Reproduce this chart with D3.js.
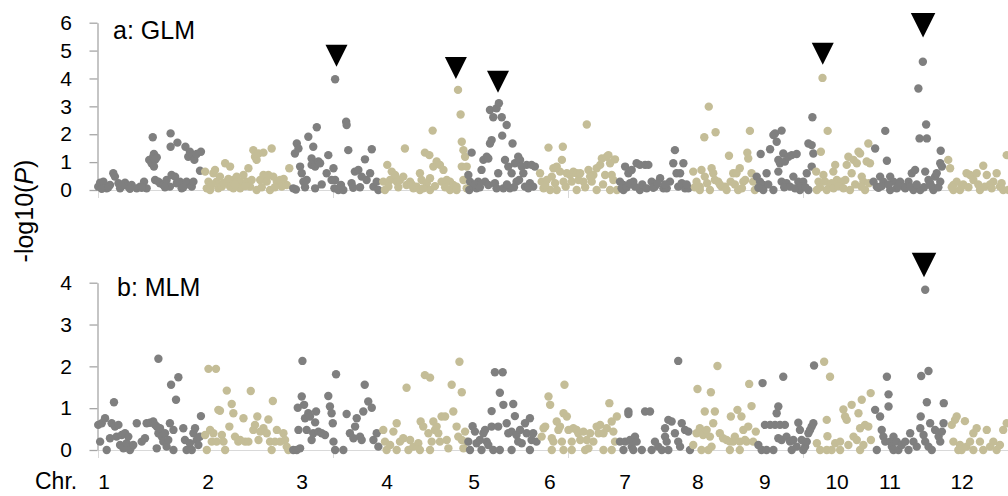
<!DOCTYPE html>
<html>
<head>
<meta charset="utf-8">
<script src="https://cdn.jsdelivr.net/npm/d3@7"></script>
<style>
  body { margin: 0; background: #fff; }
  text { font-family: "Liberation Sans", Arial, sans-serif; }
</style>
</head>
<body>
<div id="vis"></div>
<script>

// chromosome layout (Mb-like units along the genome)
const CHROMS = ["1", "2", "3", "4", "5", "6", "7", "8", "9", "10", "11", "12"];
const CHR_START = [0, 44, 82, 120, 157, 187, 221, 252, 280, 305, 329, 360];
const CHR_LABEL_POS = [2.6, 46.8, 86.8, 123, 160, 192.3, 224.3, 255.3, 283.8, 314.5, 337, 367.7];
const X_TICKS = [0, 100, 200, 300];
const GLM_TICKS = [0, 1, 2, 3, 4, 5, 6];
const MLM_TICKS = [0, 1, 2, 3, 4];

// GLM: [position within chromosome, -log10(P)]
const glm1 = [[0.1,0.12],[0.9,0.26],[2.3,0.30],[3.7,0.06],[5.1,0.18],[6.5,0.60],[7.2,0.48],[8.7,0.24],[9.4,0.06],[11.5,0.26],[12.9,0.12],[14.3,0.18],[16.5,0.06],[17.9,0.12],[19.6,0.30],[20.7,0.06],[21.8,1.08],[22.8,0.96],[23.3,1.89],[23.5,1.19],[23.8,1.29],[24.3,1.08],[25.0,1.17],[23.8,0.84],[24.3,0.36],[25.7,0.30],[26.4,0.24],[27.8,0.18],[29.2,0.36],[30.6,0.12],[31.3,0.54],[32.8,0.48],[33.5,0.24],[34.9,0.30],[35.6,0.06],[37.0,0.18],[37.7,0.30],[39.9,0.12],[40.6,0.30],[30.9,2.03],[30.9,1.55],[33.8,1.70],[37.2,1.55],[38.4,1.19],[39.1,1.37],[40.3,1.25],[41.0,1.08],[42.0,1.29],[43.8,1.37],[43.4,0.69],[1.6,0.04],[4.4,0.10],[10.2,0.14],[13.6,0.04],[18.6,0.08],[28.5,0.10],[36.3,0.10]];
const glm2 = [[1.6,0.66],[2.3,0.06],[3.0,0.30],[3.7,0.0],[5.1,0.60],[5.8,0.72],[6.5,0.30],[7.2,0.06],[7.9,0.48],[8.7,0.12],[10.1,0.96],[10.8,0.30],[12.2,0.84],[12.2,0.12],[13.6,0.36],[13.6,0.06],[15.0,0.48],[16.5,0.30],[16.5,0.06],[17.9,0.54],[19.3,0.30],[20.0,0.78],[20.7,0.12],[22.1,1.43],[22.8,1.19],[23.5,1.08],[23.5,0.0],[24.3,1.31],[25.0,0.36],[26.4,1.34],[26.4,0.54],[27.8,0.30],[28.5,0.54],[29.2,0.0],[29.9,1.49],[30.6,0.48],[32.1,0.30],[33.5,0.36],[34.2,0.12],[36.3,0.18],[37.4,0.78],[4.4,0.20],[9.4,0.24],[11.5,0.40],[14.3,0.20],[18.6,0.14],[21.4,0.36],[25.7,0.10],[31.3,0.10],[35.0,0.40]];
const glm3 = [[1.1,0.06],[1.8,1.31],[2.6,1.67],[3.3,1.49],[4.0,0.84],[4.7,0.60],[5.4,0.30],[6.8,0.36],[7.5,1.91],[8.9,1.13],[8.9,0.90],[9.6,1.55],[10.4,0.84],[10.4,0.06],[11.1,2.25],[11.1,0.96],[11.8,1.02],[12.5,0.96],[15.3,0.60],[16.0,1.25],[17.4,0.36],[18.2,0.78],[18.6,0.06],[18.9,3.97],[18.9,0.36],[20.3,0.0],[22.4,0.0],[23.6,2.45],[23.8,2.33],[24.5,1.43],[25.9,0.24],[27.3,0.66],[28.8,0.72],[30.2,0.48],[31.6,1.10],[32.3,0.36],[33.8,0.60],[34.5,1.46],[35.2,0.12],[36.6,0.30],[37.3,0.0],[2.2,0.02],[6.1,0.10],[13.2,0.20],[21.4,0.18],[26.6,0.08],[29.5,0.10]];
const glm4 = [[1.4,0.30],[2.1,0.0],[3.1,0.90],[4.3,0.36],[5.0,0.66],[6.4,0.54],[7.1,0.30],[8.5,0.36],[9.9,0.48],[10.6,1.49],[11.3,0.18],[12.8,0.30],[14.2,0.06],[15.6,0.12],[17.0,0.60],[17.0,0.0],[17.7,0.36],[19.1,1.34],[19.9,0.24],[21.0,1.25],[21.3,0.42],[21.3,0.0],[22.4,2.13],[22.7,0.84],[24.1,1.02],[25.5,0.90],[26.2,0.30],[27.0,0.72],[28.4,0.36],[29.8,0.30],[29.8,0.0],[31.2,0.18],[32.6,0.12],[32.6,0.0],[33.2,3.59],[34.3,2.71],[34.8,1.73],[34.8,0.84],[35.5,1.43],[35.5,0.36],[36.2,1.19],[36.9,0.84],[36.9,0.06],[3.6,0.12],[7.8,0.10],[13.5,0.20],[18.4,0.06],[23.4,0.14],[27.7,0.10]];
const glm5 = [[0.6,0.54],[1.0,0.0],[1.3,0.30],[2.0,1.34],[2.7,0.12],[4.1,0.06],[4.8,0.30],[6.2,0.72],[7.0,1.08],[7.7,0.30],[8.4,1.19],[9.1,1.13],[9.1,0.18],[9.8,1.67],[10.5,1.79],[9.8,2.87],[11.2,2.61],[11.9,0.24],[12.6,2.93],[12.6,0.06],[13.3,0.60],[13.6,3.11],[14.8,2.61],[15.0,1.95],[15.5,0.06],[16.2,1.08],[16.9,2.33],[17.6,0.84],[18.3,0.06],[19.0,0.60],[19.4,1.67],[20.4,0.96],[21.1,0.30],[21.8,1.19],[22.6,1.08],[23.3,0.84],[24.0,0.60],[24.7,0.12],[25.4,0.90],[26.8,0.24],[27.5,0.90],[28.2,0.12],[28.9,0.84],[3.4,0.20],[5.5,0.10],[17.0,0.20],[20.0,0.10],[22.2,0.36],[26.1,0.06]];
const glm6 = [[1.1,0.60],[1.8,0.30],[2.6,0.06],[4.0,0.36],[4.7,1.52],[5.4,0.0],[6.1,0.48],[6.8,0.78],[8.2,0.84],[8.2,0.0],[9.6,0.66],[10.4,1.08],[10.8,1.55],[11.1,0.30],[12.5,0.60],[13.9,0.54],[15.3,0.66],[16.7,0.60],[16.7,0.0],[18.2,0.60],[19.6,0.30],[21.0,2.35],[21.7,0.72],[23.1,0.30],[23.8,0.54],[25.2,0.78],[25.2,0.0],[26.7,0.90],[27.4,1.13],[28.8,0.54],[29.5,1.19],[30.2,1.25],[30.9,0.96],[30.9,0.0],[32.3,0.36],[33.0,1.10],[33.8,0.0],[3.3,0.18],[7.5,0.24],[12.0,0.12],[14.6,0.30],[17.5,0.36],[20.3,0.10],[22.4,0.48],[27.9,0.20],[31.6,0.54]];
const glm7 = [[1.1,0.30],[2.6,0.18],[2.6,0.0],[3.3,0.84],[4.7,0.60],[6.1,0.72],[6.8,0.30],[8.2,0.96],[9.6,0.90],[9.6,0.0],[11.8,0.90],[13.2,0.90],[14.6,0.30],[16.0,0.12],[18.2,0.42],[19.6,0.06],[21.0,0.06],[22.4,0.30],[23.8,0.96],[24.5,1.43],[25.2,0.60],[26.7,0.60],[28.1,0.96],[28.8,0.06],[30.2,0.06],[1.8,0.06],[4.0,0.10],[5.4,0.24],[7.5,0.12],[10.6,0.20],[12.5,0.06],[15.3,0.08],[17.1,0.24],[20.3,0.20],[25.9,0.12],[27.4,0.24],[29.5,0.20]];
const glm8 = [[1.3,0.66],[2.7,0.30],[4.1,0.12],[4.1,0.0],[4.8,0.72],[6.0,1.89],[6.2,0.48],[7.9,2.99],[8.4,0.0],[9.1,0.78],[9.8,0.60],[10.8,2.07],[11.9,0.30],[13.3,0.12],[14.8,0.12],[15.5,0.0],[16.5,1.23],[18.3,0.60],[19.7,0.60],[20.4,0.0],[21.1,0.78],[22.6,0.30],[24.3,1.34],[24.7,1.13],[25.4,2.12],[26.1,0.60],[26.8,0.30],[27.5,0.0],[2.0,0.10],[7.2,0.24],[10.5,0.36],[12.6,0.20],[17.2,0.30],[19.0,0.20],[22.0,0.06],[23.4,0.36]];
const glm9 = [[0.3,0.48],[1.7,0.30],[2.0,1.29],[3.1,0.18],[3.1,0.0],[4.5,0.60],[6.0,1.46],[7.4,1.97],[7.4,0.0],[8.1,2.03],[8.8,1.73],[9.5,1.08],[9.5,0.66],[10.2,0.96],[10.9,2.13],[10.9,0.30],[11.6,1.31],[12.3,1.02],[13.0,0.24],[13.8,1.19],[15.2,1.25],[15.9,0.48],[17.3,1.29],[18.0,0.30],[18.7,0.0],[20.1,0.30],[21.6,0.60],[22.3,1.67],[22.3,0.0],[23.7,1.61],[23.7,0.84],[24.0,2.61],[24.4,1.31],[1.0,0.08],[5.2,0.20],[12.0,0.10],[14.5,0.12],[16.6,0.06],[19.4,0.14],[21.0,0.10]];
const glm10 = [[0.6,0.66],[0.9,0.0],[1.6,0.30],[2.6,1.37],[3.3,4.02],[3.7,0.54],[4.4,0.30],[5.1,0.0],[5.5,2.12],[6.5,0.12],[7.9,0.66],[8.7,0.90],[9.4,0.36],[11.5,0.30],[13.6,0.90],[14.3,1.19],[15.0,0.0],[15.7,0.60],[16.5,1.08],[17.9,0.96],[18.6,1.37],[19.3,1.31],[20.0,0.48],[20.7,0.30],[21.4,0.0],[22.1,1.02],[22.8,1.67],[23.5,0.96],[2.2,0.10],[7.2,0.24],[8.0,0.06],[10.1,0.14],[12.2,0.06],[13.0,0.36],[17.2,0.20],[19.8,0.12],[23.0,0.24]];
const glm11 = [[1.0,0.30],[1.7,1.49],[2.4,0.12],[3.8,0.48],[5.2,0.30],[6.0,2.12],[6.7,1.05],[8.1,0.48],[8.1,0.0],[9.5,0.30],[10.9,0.06],[12.3,0.30],[13.8,0.12],[15.9,0.30],[17.3,0.60],[18.0,0.0],[18.7,0.72],[20.1,3.64],[20.6,1.85],[20.9,0.0],[22.0,4.60],[23.0,0.66],[23.4,2.35],[23.7,1.85],[24.4,0.36],[25.8,0.12],[26.5,0.0],[27.2,0.48],[27.9,0.60],[29.4,0.96],[29.4,0.30],[29.6,1.41],[30.1,0.84],[3.1,0.08],[4.5,0.14],[7.4,0.20],[11.6,0.14],[14.5,0.06],[16.6,0.12],[19.4,0.20],[22.5,0.10],[25.1,0.24],[28.6,0.10]];
const glm12 = [[1.8,1.08],[2.6,0.78],[4.0,0.18],[4.0,0.0],[5.4,0.30],[6.8,0.0],[7.5,0.12],[9.6,0.60],[11.1,0.54],[12.5,0.36],[13.9,0.60],[15.3,0.0],[16.7,0.87],[18.2,0.54],[21.0,0.30],[22.4,0.60],[23.8,0.12],[25.2,0.0],[26.7,1.25],[27.4,0.0],[3.3,0.10],[8.2,0.20],[10.4,0.10],[14.6,0.20],[17.4,0.12],[19.6,0.20],[20.3,0.06],[24.5,0.24]];

// MLM: [position within chromosome, -log10(P)]
const mlm1 = [[0.1,0.60],[0.9,0.20],[1.6,0.64],[3.0,0.76],[3.7,0.0],[5.1,0.28],[5.8,0.64],[6.8,1.14],[7.2,0.56],[7.9,0.32],[8.7,0.60],[9.4,0.12],[10.1,0.36],[10.8,0.04],[11.5,0.40],[12.2,0.16],[12.9,0.32],[13.6,0.0],[14.3,0.08],[15.0,0.12],[16.5,0.64],[18.6,0.20],[20.0,0.28],[20.7,0.64],[22.1,0.65],[23.5,0.68],[24.3,0.60],[25.0,0.56],[25.0,0.04],[25.7,2.18],[25.7,0.40],[26.4,0.52],[27.1,0.32],[27.8,0.20],[28.5,0.40],[29.2,0.08],[29.9,0.24],[30.6,0.64],[31.1,1.56],[32.1,0.48],[32.1,0.0],[33.2,1.20],[34.2,1.74],[36.3,0.52],[37.0,0.24],[37.7,0.0],[39.1,0.16],[39.9,0.0],[40.6,0.40],[41.3,0.52],[42.0,0.24],[42.7,0.12],[43.4,0.32],[43.8,0.81]];
const mlm2 = [[1.6,0.36],[2.3,0.0],[3.0,1.94],[3.7,0.48],[4.4,0.20],[5.1,0.40],[6.2,1.94],[6.5,0.20],[7.2,0.96],[7.9,0.94],[8.7,0.36],[9.4,0.20],[10.1,0.0],[10.8,1.42],[11.9,0.56],[12.9,1.10],[13.6,0.88],[14.3,0.32],[15.7,0.20],[16.5,0.24],[17.9,0.76],[18.6,0.20],[20.0,0.20],[21.0,1.41],[22.1,0.48],[22.8,0.60],[23.8,0.80],[24.3,0.24],[25.0,0.44],[26.4,0.52],[27.8,0.40],[28.5,0.73],[29.2,0.20],[29.9,0.0],[30.4,1.17],[31.3,0.20],[32.1,0.48],[33.5,0.20],[34.9,0.40],[35.6,0.24],[36.3,0.08],[37.0,0.0]];
const mlm3 = [[1.1,0.0],[2.6,0.0],[3.0,1.01],[3.3,0.48],[4.0,0.04],[4.7,1.28],[5.0,2.13],[5.7,1.08],[6.1,0.76],[6.8,0.48],[7.5,0.88],[8.2,0.80],[8.9,0.24],[9.6,0.40],[10.4,0.66],[10.8,0.92],[11.8,0.44],[13.2,0.40],[14.6,0.36],[16.0,1.29],[16.7,1.04],[17.4,0.88],[17.9,0.64],[18.2,0.20],[18.9,0.0],[19.3,1.81],[22.4,0.0],[23.8,0.86],[25.2,0.40],[26.7,0.28],[27.4,0.56],[28.1,0.76],[29.5,0.32],[30.2,0.24],[30.9,0.92],[31.5,1.56],[33.0,1.16],[34.5,1.01],[35.2,0.24],[36.6,0.40],[37.3,0.08]];
const mlm4 = [[1.4,0.48],[2.1,0.20],[2.8,0.0],[4.3,0.12],[5.7,0.44],[7.1,0.64],[7.1,0.0],[8.5,0.20],[9.9,0.28],[11.3,1.49],[12.1,0.0],[12.8,0.24],[14.2,0.08],[16.3,0.16],[17.0,0.0],[17.3,0.68],[18.4,0.56],[19.1,1.79],[20.6,0.40],[21.3,1.73],[21.3,0.0],[22.0,0.20],[22.7,0.68],[23.4,0.48],[24.1,0.56],[24.8,0.40],[25.5,0.20],[26.2,0.80],[27.7,0.80],[28.4,0.24],[29.1,0.04],[30.5,1.56],[31.2,0.92],[32.6,0.56],[33.3,0.32],[33.8,2.11],[34.8,1.38],[34.8,0.24],[35.5,0.04],[36.2,0.44],[36.9,0.20]];
const mlm5 = [[0.6,0.20],[1.3,0.0],[2.4,0.57],[3.4,0.44],[4.1,0.16],[5.5,0.24],[6.2,0.0],[7.0,0.40],[7.7,0.48],[8.4,0.20],[9.1,0.12],[10.5,0.93],[10.5,0.56],[11.2,0.0],[11.9,1.86],[13.3,0.56],[14.0,1.37],[14.0,0.0],[15.2,1.86],[15.5,1.08],[16.9,0.64],[17.6,0.40],[19.0,0.44],[19.0,0.0],[19.7,1.10],[20.4,0.81],[21.1,0.36],[21.8,0.20],[22.6,0.48],[23.3,0.16],[24.7,0.64],[25.4,0.40],[26.8,0.76],[26.8,0.0],[27.5,0.24],[28.2,0.40],[29.6,0.20]];
const mlm6 = [[1.8,0.32],[2.6,0.52],[3.3,0.56],[4.7,1.28],[5.4,1.08],[6.1,0.28],[6.1,0.0],[6.8,0.20],[8.2,0.68],[8.9,0.48],[9.6,0.56],[10.4,0.20],[11.1,0.88],[11.1,0.0],[11.5,1.56],[12.5,0.80],[13.2,0.48],[14.6,0.20],[14.6,0.0],[15.3,0.52],[16.7,0.48],[17.4,0.40],[18.2,0.24],[19.6,0.44],[20.3,0.0],[21.0,0.24],[21.7,0.04],[22.4,0.40],[23.8,0.20],[25.2,0.56],[26.0,0.40],[26.7,0.60],[28.1,0.40],[28.1,0.0],[29.5,0.52],[30.6,1.12],[31.6,0.68],[31.6,0.0],[32.3,0.44],[33.0,0.20],[33.8,0.80]];
const mlm7 = [[1.1,0.20],[2.6,0.0],[3.3,0.20],[4.7,0.92],[4.7,0.86],[5.4,0.24],[6.1,0.08],[6.8,0.0],[7.5,0.32],[8.2,0.20],[10.4,0.0],[11.8,0.92],[13.9,0.92],[14.6,0.0],[16.0,0.20],[17.4,0.08],[18.9,0.0],[20.3,0.52],[21.7,0.72],[20.3,0.32],[21.0,0.20],[21.7,0.0],[23.1,0.68],[24.5,0.40],[25.9,2.13],[25.9,0.20],[26.7,0.08],[27.4,0.64],[28.8,0.48],[30.2,0.44],[30.9,0.0]];
const mlm8 = [[1.3,0.12],[2.7,0.40],[3.1,1.46],[4.1,0.52],[4.8,0.0],[5.5,0.36],[6.2,0.92],[7.0,0.48],[7.7,0.0],[8.4,0.32],[8.8,1.38],[9.1,0.08],[9.8,0.64],[10.5,0.92],[11.6,2.01],[12.6,0.40],[14.0,0.28],[15.5,0.24],[16.9,0.20],[16.9,0.0],[17.3,0.80],[18.3,0.20],[19.0,0.32],[20.1,0.96],[21.1,0.20],[21.1,0.0],[21.8,0.80],[22.6,0.48],[23.3,0.24],[24.0,0.20],[24.7,0.56],[25.1,1.58],[26.1,1.05],[26.8,0.20],[27.9,0.44]];
const mlm9 = [[1.0,0.12],[2.4,0.0],[2.8,1.60],[3.8,0.60],[4.5,0.0],[6.0,0.60],[7.4,0.0],[8.1,0.60],[8.8,0.88],[9.5,1.04],[9.5,0.28],[10.2,0.60],[10.9,0.24],[11.6,1.75],[12.3,0.60],[13.0,0.32],[14.5,0.20],[15.2,0.0],[15.9,0.24],[17.3,0.08],[18.0,0.65],[18.7,0.48],[19.4,0.24],[20.1,0.0],[20.9,0.08],[21.6,0.20],[22.3,0.40],[23.0,0.48],[23.7,0.56],[24.4,0.64],[24.7,2.02]];
const mlm10 = [[0.9,0.16],[2.3,0.0],[4.0,2.11],[5.1,0.72],[5.1,0.0],[5.4,0.33],[6.5,1.75],[7.2,0.0],[8.7,0.16],[10.8,0.20],[10.8,0.0],[12.2,0.97],[12.9,0.80],[13.6,0.72],[14.3,0.12],[15.7,1.08],[16.5,0.32],[17.9,0.24],[18.6,0.88],[19.3,0.52],[19.3,0.0],[20.0,1.20],[20.7,0.12],[21.4,0.60],[22.8,0.56],[23.8,1.36],[23.9,0.24]];
const mlm11 = [[1.7,0.96],[2.4,0.0],[3.8,0.80],[4.5,0.48],[5.2,0.32],[6.0,0.20],[6.7,1.75],[7.4,1.33],[7.4,1.04],[8.1,0.20],[8.8,0.08],[9.5,0.32],[9.5,0.0],[10.9,0.20],[11.6,0.0],[13.0,0.12],[14.5,0.20],[15.9,0.0],[16.6,0.40],[18.0,0.20],[19.4,0.08],[20.9,0.52],[21.1,0.80],[21.3,1.77],[22.3,0.36],[23.0,3.83],[23.0,0.20],[23.7,1.14],[24.4,1.89],[24.4,0.08],[25.1,0.64],[25.8,0.0],[27.2,0.48],[28.7,0.32],[29.4,0.20],[30.1,0.44],[30.8,0.64],[30.9,1.12]];
const mlm12 = [[3.3,0.60],[4.0,0.20],[4.7,0.72],[5.4,0.80],[6.1,0.0],[6.8,0.12],[7.5,0.0],[8.9,0.69],[9.6,0.08],[11.1,0.20],[12.5,0.40],[12.5,0.0],[13.9,0.52],[15.3,0.20],[16.7,0.0],[18.2,0.48],[19.6,0.08],[21.0,0.20],[22.4,0.0],[23.8,0.12],[25.2,0.48],[26.7,0.64]];

// significant hits: [chromosome index, position, level of the arrow tip]
const glmHits = [[2, 19.5, 4.42], [3, 32.3, 3.98], [4, 13.2, 3.49], [9, 3.4, 4.49], [10, 22.1, 5.47]];
const mlmHits = [[10, 22.5, 4.13]];

const GLM = [glm1, glm2, glm3, glm4, glm5, glm6, glm7, glm8, glm9, glm10, glm11, glm12];
const MLM = [mlm1, mlm2, mlm3, mlm4, mlm5, mlm6, mlm7, mlm8, mlm9, mlm10, mlm11, mlm12];

const FRAME_WIDTH = 1008;
const FRAME_HEIGHT = 496;
const GREY = "#7f7f7f";
const TAN = "#c4bd97";
const AXIS_X = 97.5;

const FRAME = d3.select("#vis")
  .append("svg")
    .attr("width", FRAME_WIDTH)
    .attr("height", FRAME_HEIGHT);

const X_SCALE = d3.scaleLinear().domain([0, 390]).range([98, 1014.5]);
const Y_GLM = d3.scaleLinear().domain([0, 6]).range([190, 22.7]);
const Y_MLM = d3.scaleLinear().domain([0, 4]).range([450, 282.7]);

function drawPanel(series, yScale, ticks, title, titleX, titleY, hits) {
  const g = FRAME.append("g");

  // light horizontal axis at zero
  const xa = g.append("g")
    .attr("transform", "translate(0," + yScale(0) + ")")
    .call(d3.axisBottom(X_SCALE).tickValues(X_TICKS).tickSize(8).tickSizeOuter(0).tickFormat(""));
  xa.select(".domain").attr("stroke", "#d9d9d9");
  xa.selectAll(".tick line").attr("stroke", "#d9d9d9");

  const ya = g.append("g")
    .attr("transform", "translate(" + AXIS_X + ",0)")
    .call(d3.axisLeft(yScale).tickValues(ticks).tickFormat(d3.format("d"))
      .tickSize(8).tickSizeOuter(0).tickPadding(17.5));
  ya.select(".domain").attr("stroke", "#a6a6a6").attr("stroke-width", 1.3);
  ya.selectAll(".tick line").attr("stroke", "#a6a6a6").attr("stroke-width", 1.3);
  ya.selectAll(".tick text")
    .attr("font-size", "21px")
    .attr("font-family", "Liberation Sans, Arial, sans-serif")
    .attr("fill", "#000");

  series.forEach((pts, i) => {
    g.append("g").selectAll("circle")
      .data(pts)
      .enter()
      .append("circle")
        .attr("cx", (d) => X_SCALE(CHR_START[i] + d[0]))
        .attr("cy", (d) => yScale(d[1]))
        .attr("r", 4.2)
        .attr("fill", i % 2 === 0 ? GREY : TAN);
  });

  // arrow heads above the hits
  g.selectAll("path.hit")
    .data(hits)
    .enter()
    .append("path")
      .attr("class", "hit")
      .attr("d", (d) => {
        const x = X_SCALE(CHR_START[d[0]] + d[1]);
        const tip = yScale(d[2]);
        const w = d[0] === 10 ? 24.5 : 22;
        return d3.line()([[x - w / 2, tip - w], [x + w / 2, tip - w], [x, tip]]) + "Z";
      })
      .attr("fill", "#000");

  g.append("text")
    .attr("x", titleX)
    .attr("y", titleY)
    .attr("font-size", "25px")
    .attr("fill", "#000")
    .text(title);
}

drawPanel(GLM, Y_GLM, GLM_TICKS, "a: GLM", 113, 39, glmHits);
drawPanel(MLM, Y_MLM, MLM_TICKS, "b: MLM", 117, 296, mlmHits);

// chromosome labels
FRAME.append("text")
  .attr("x", 35)
  .attr("y", 489)
  .attr("font-size", "23px")
  .text("Chr.");

FRAME.selectAll("text.chr")
  .data(CHROMS)
  .enter()
  .append("text")
    .attr("class", "chr")
    .attr("x", (d, i) => X_SCALE(CHR_LABEL_POS[i]))
    .attr("y", 489)
    .attr("text-anchor", "middle")
    .attr("font-size", "21px")
    .text((d) => d);

// y axis title
const yt = FRAME.append("text")
  .attr("transform", "translate(33,211) rotate(-90)")
  .attr("text-anchor", "middle")
  .attr("font-size", "25px");
yt.append("tspan").text("-log10(");
yt.append("tspan").attr("font-style", "italic").text("P");
yt.append("tspan").text(")");

</script>
</body>
</html>
